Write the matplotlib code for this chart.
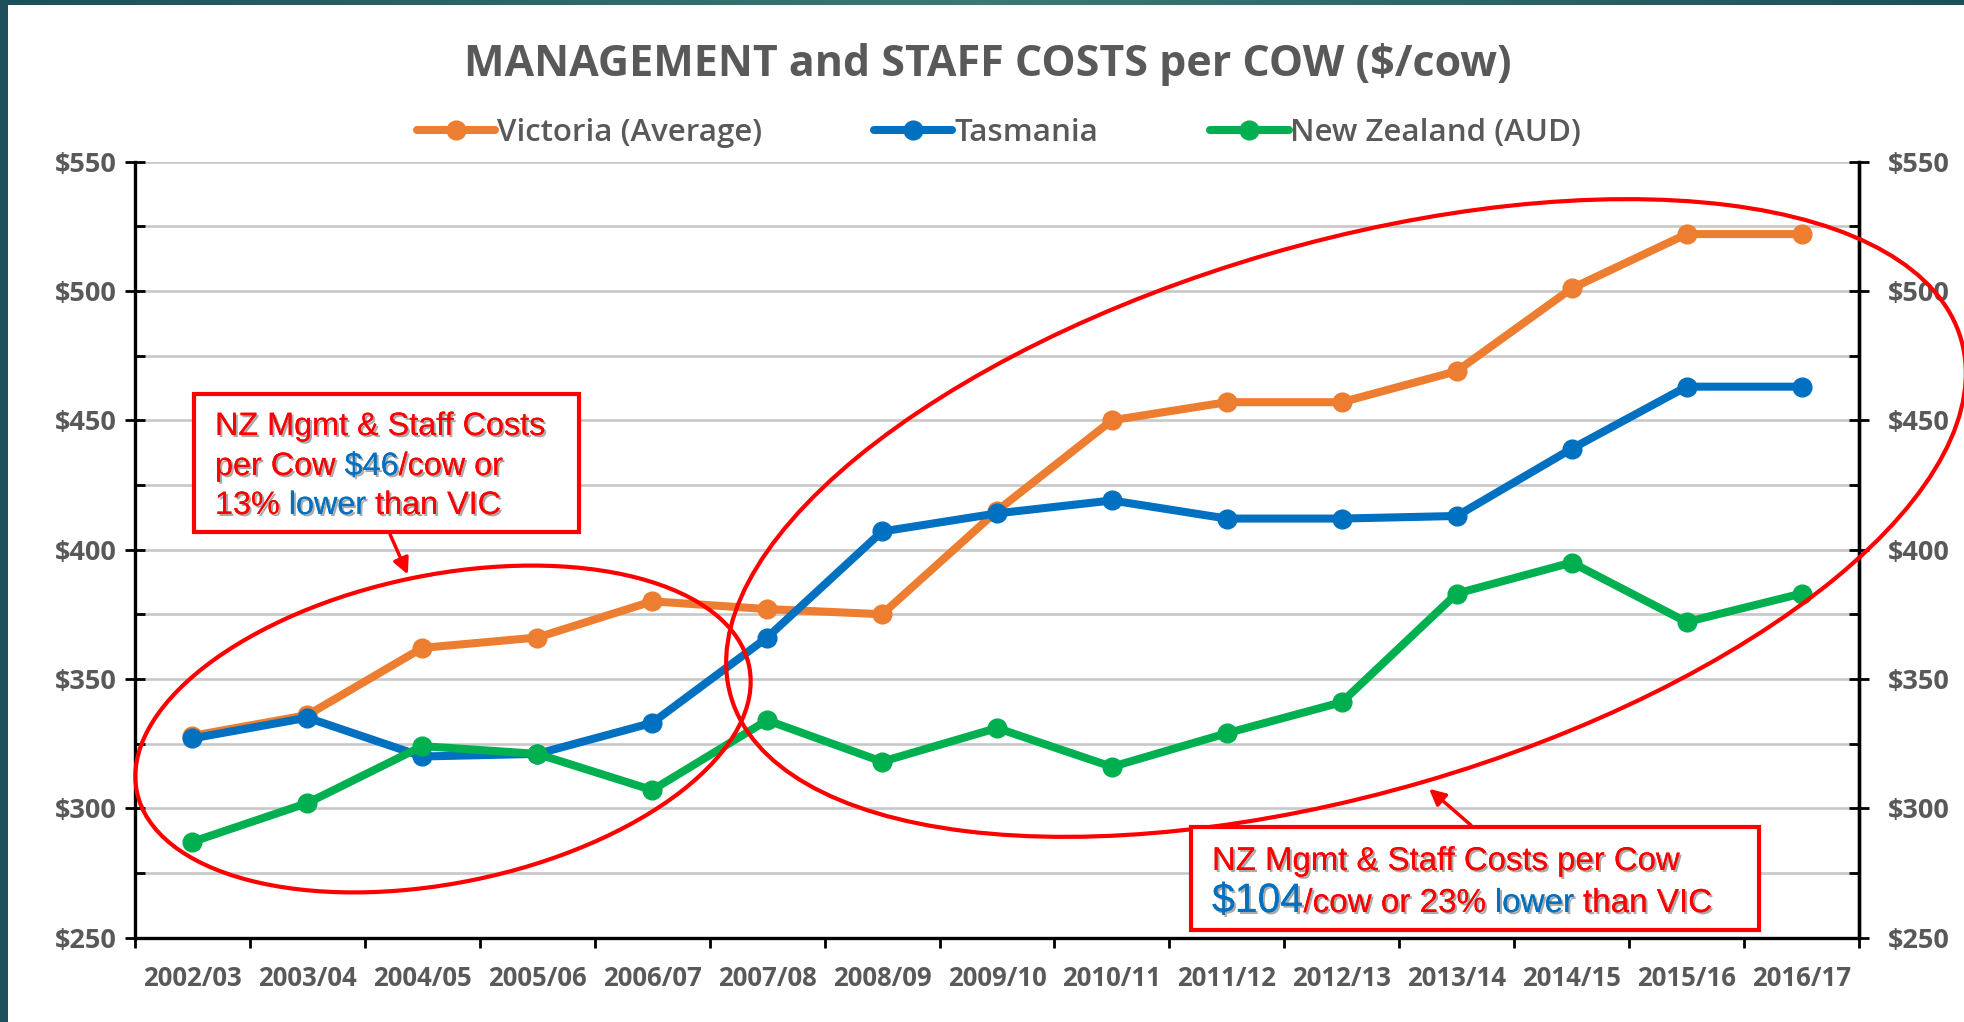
import numpy as np
import matplotlib.pyplot as plt
from matplotlib.patches import Ellipse, Rectangle
from matplotlib.colors import LinearSegmentedColormap
from matplotlib import patheffects as pe

seasons = ['2002/03', '2003/04', '2004/05', '2005/06', '2006/07', '2007/08', '2008/09',
           '2009/10', '2010/11', '2011/12', '2012/13', '2013/14', '2014/15', '2015/16', '2016/17']
victoria = [328, 336, 362, 366, 380, 377, 375, 415, 450, 457, 457, 469, 501, 522, 522]
tasmania = [327, 335, 320, 321, 333, 366, 407, 414, 419, 412, 412, 413, 439, 463, 463]
nz_aud = [287, 302, 324, 321, 307, 334, 318, 331, 316, 329, 341, 383, 395, 372, 383]

series_names = ['Victoria (Average)', 'Tasmania', 'New Zealand (AUD)']
series_colors = ['#ED7D31', '#0070C0', '#00B050']
y_ticks = list(range(250, 551, 50))

W, H = 1964, 1022
GREY = '#595959'
RED = '#FF0000'
BLUE = '#0070C0'

fig = plt.figure(figsize=(W / 100, H / 100), dpi=100)
fig.patch.set_facecolor('white')

# main plot area, pixel box converted to figure fractions
left, right, top, bottom = 135, 1859, 161.7, 937.5
ax = fig.add_axes([left / W, 1 - bottom / H, (right - left) / W, (bottom - top) / H])

x = np.arange(len(seasons))
for vals, name, col in zip([victoria, tasmania, nz_aud], series_names, series_colors):
    ax.plot(x, vals, color=col, lw=5.8, marker='o', ms=13.5, label=name,
            solid_capstyle='round', zorder=3)

ax.set_xlim(-0.5, len(seasons) - 0.5)
ax.set_ylim(250, 550)

# grid every $25
for v in np.arange(275, 551, 25):
    ax.axhline(v, color='#c8c8c8', lw=1.9, zorder=1)

tick_font = dict(family='Open Sans', weight='bold', size=19.5)

ax.set_xticks(x, seasons)
ax.set_xticks(np.arange(-0.5, len(seasons), 1), minor=True)
ax.tick_params(axis='x', which='major', length=0, pad=20, labelcolor=GREY)
ax.tick_params(axis='x', which='minor', length=7.5, width=2, direction='out')
for lab in ax.get_xticklabels():
    lab.set_fontproperties(dict(family='Open Sans', weight='bold', size=18.5))

ax.set_yticks(y_ticks, [f'${v}' for v in y_ticks])
ax.set_yticks(np.arange(250, 551, 25), minor=True)
ax.tick_params(axis='y', which='major', direction='inout', length=14, width=2, pad=6,
               labelcolor=GREY)
ax.tick_params(axis='y', which='minor', direction='in', length=7, width=2)
for lab in ax.get_yticklabels():
    lab.set_fontproperties(tick_font)

for s in ['left', 'right', 'bottom']:
    ax.spines[s].set_linewidth(2.4)
ax.spines['top'].set_visible(False)

ax2 = ax.twinx()
ax2.set_ylim(250, 550)
ax2.set_yticks(y_ticks, [f'${v}' for v in y_ticks])
ax2.set_yticks(np.arange(250, 551, 25), minor=True)
ax2.tick_params(axis='y', which='major', direction='inout', length=14, width=2, pad=14,
                labelcolor=GREY)
ax2.tick_params(axis='y', which='minor', direction='in', length=7, width=2)
for lab in ax2.get_yticklabels():
    lab.set_fontproperties(tick_font)
ax2.spines['right'].set_linewidth(2.4)
ax2.spines['top'].set_visible(False)
ax2.spines['left'].set_visible(False)
ax2.spines['bottom'].set_visible(False)

fig.text(988 / W, 1 - 65 / H, 'MANAGEMENT and STAFF COSTS per COW ($/cow)',
         ha='center', va='center', fontsize=31, fontweight='bold', color=GREY,
         family='Open Sans')

fig.legend(*ax.get_legend_handles_labels(), loc='center',
           bbox_to_anchor=(999 / W, 1 - 133 / H), ncol=3, frameon=False,
           prop=dict(family='Open Sans', weight='semibold', size=22.5),
           labelcolor=GREY, handlelength=2.5, handletextpad=0.05, columnspacing=3.6)

# overlay in pixel coordinates for the callouts
ov = fig.add_axes([0, 0, 1, 1], zorder=5)
ov.set_xlim(0, W)
ov.set_ylim(H, 0)
ov.axis('off')

# slide frame
ov.add_patch(Rectangle((0, 0), 8, H, color='#1d4f5a', lw=0, zorder=1))
grad = np.concatenate([np.linspace(0, 1, 200), np.linspace(1, 0, 200)])[None, :]
ov.imshow(grad, extent=(0, W, 5, 0), aspect='auto', zorder=1,
          cmap=LinearSegmentedColormap.from_list('frame', ['#1d4f5a', '#3a7a72']))

ov.add_patch(Ellipse((443, 729), 625, 308, angle=-11.6, fill=False, ec=RED, lw=3, zorder=3))
ov.add_patch(Ellipse((1346, 518), 1281, 550, angle=-16.2, fill=False, ec=RED, lw=3, zorder=3))

ov.annotate('', xy=(409, 577), xytext=(389, 532),
            arrowprops=dict(arrowstyle='-|>', color=RED, lw=2.5, mutation_scale=24))
ov.annotate('', xy=(1427, 787), xytext=(1473, 827),
            arrowprops=dict(arrowstyle='-|>', color=RED, lw=2.5, mutation_scale=24))

ov.add_patch(Rectangle((194, 394), 385, 138, fc='white', ec=RED, lw=3, zorder=4))
ov.add_patch(Rectangle((1191, 827), 568, 103, fc='white', ec=RED, lw=3, zorder=4))

shadow = [pe.withSimplePatchShadow(offset=(1.5, -1.5), shadow_rgbFace='#444444', alpha=0.45),
          pe.Normal()]
renderer = fig.canvas.get_renderer()


def rich_line(x0, y0, pieces):
    xpos = x0
    for text, color, size in pieces:
        t = ov.text(xpos, y0, text, color=color, fontsize=size, family='Liberation Sans',
                    ha='left', va='baseline', path_effects=shadow, zorder=6)
        xpos += t.get_window_extent(renderer).width


rich_line(215, 435, [('NZ Mgmt & Staff Costs', RED, 23.3)])
rich_line(215, 475, [('per Cow ', RED, 23.3), ('$46', BLUE, 23.3), ('/cow or', RED, 23.3)])
rich_line(215, 514, [('13% ', RED, 23.3), ('lower', BLUE, 23.3), (' than VIC', RED, 23.3)])

rich_line(1212, 870, [('NZ Mgmt & Staff Costs per Cow', RED, 23.7)])
rich_line(1212, 912, [('$104', BLUE, 29.5), ('/cow or 23% ', RED, 23.9),
                      ('lower', BLUE, 23.9), (' than VIC', RED, 23.9)])

fig.savefig('out.png', dpi=100)
